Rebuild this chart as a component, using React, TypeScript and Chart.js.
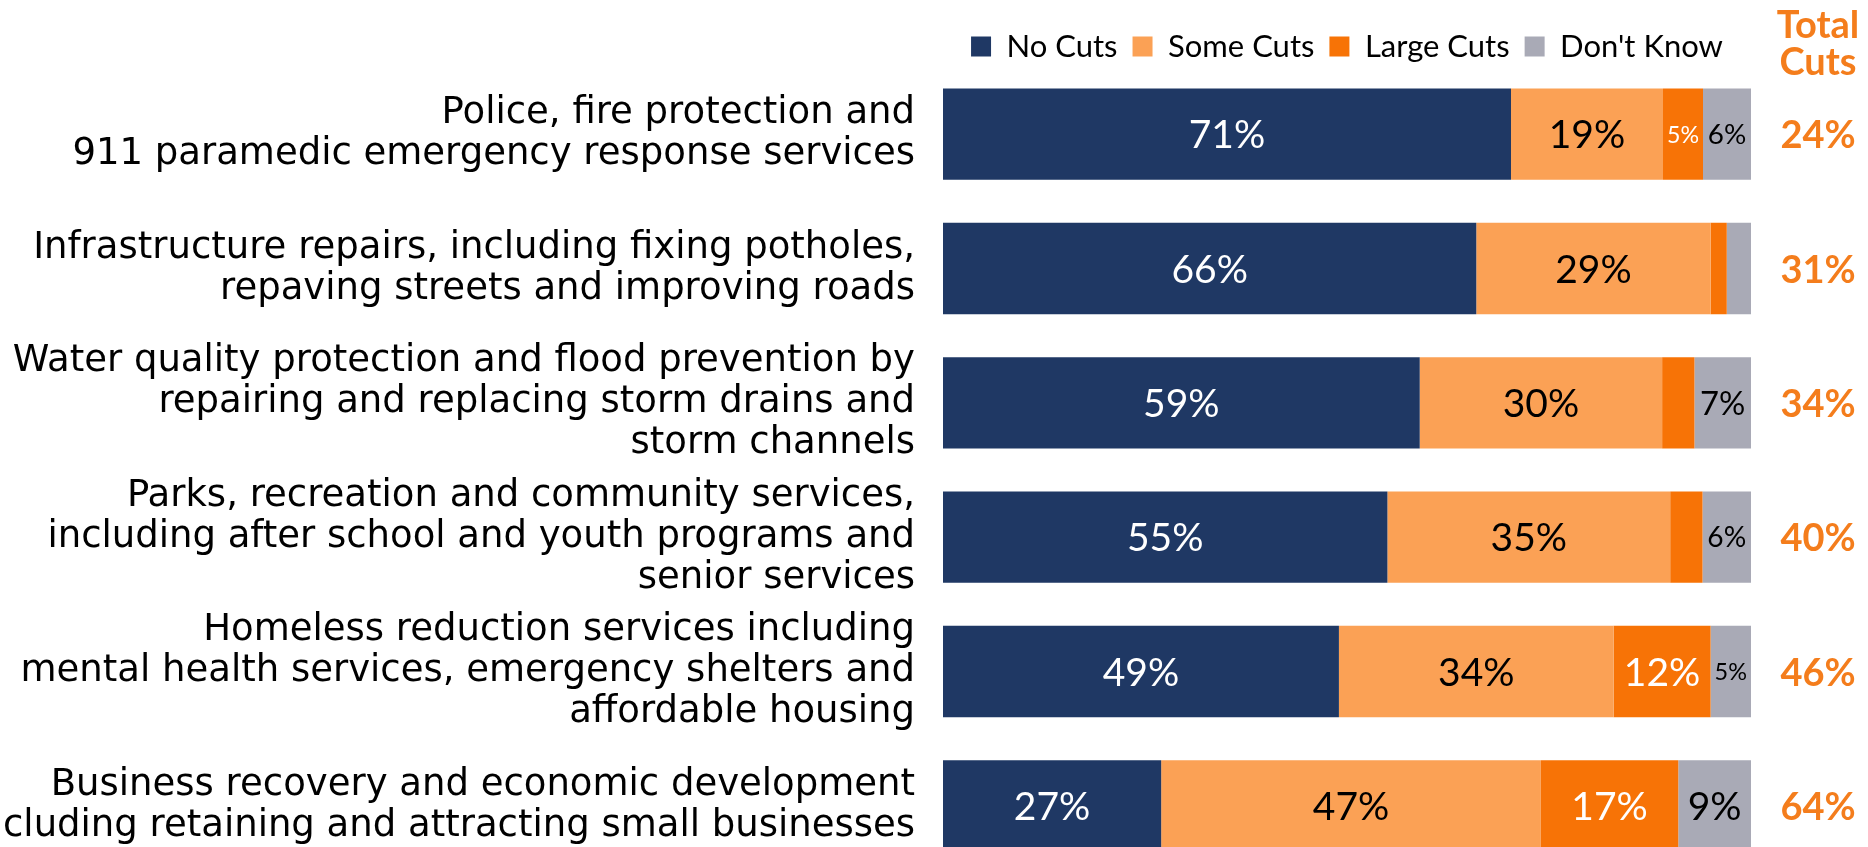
import React, { useEffect, useRef } from 'react';
import { Chart, registerables } from 'chart.js';

Chart.register(...registerables);

// ---------- data ----------
const categories: string[][] = [
  ['Police, fire protection and', '911 paramedic emergency response services'],
  ['Infrastructure repairs, including fixing potholes,', 'repaving streets and improving roads'],
  ['Water quality protection and flood prevention by', 'repairing and replacing storm drains and', 'storm channels'],
  ['Parks, recreation and community services,', 'including after school and youth programs and', 'senior services'],
  ['Homeless reduction services including', 'mental health services, emergency shelters and', 'affordable housing'],
  ['Business recovery and economic development', 'including retaining and attracting small businesses'],
];
const seriesNames = ['No Cuts', 'Some Cuts', 'Large Cuts', "Don't Know"];
const noCuts = [71, 66, 59, 55, 49, 27];
const someCuts = [19, 29, 30, 35, 34, 47];
const largeCuts = [5, 2, 4, 4, 12, 17];
const dontKnow = [6, 3, 7, 6, 5, 9];
const totalCuts = [24, 31, 34, 40, 46, 64];
const totalHeader = ['Total', 'Cuts'];
const minLabelValue = 5;

// ---------- styles ----------
const seriesColors = ['#1F3864', '#FBA155', '#F77306', '#A9AAB6'];
const labelColors = ['#FFFFFF', '#000000', '#FFFFFF', '#000000'];
const totalColor = '#F47D1C';
const W = 1868;
const H = 880;
const CHART_LEFT = 943;
const RIGHT_PAD = 117;
const TOP_PAD = 16;
const LEGEND_HEIGHT = 51;
const TOTAL_X = 1818;
const CAT_FONT = 'DejaVu Sans';
const MAIN_FONT = 'Lato';

const seriesValues = [noCuts, someCuts, largeCuts, dontKnow];
const rowSums = categories.map((_, i) => seriesValues.reduce((s, arr) => s + arr[i], 0));

const legendHeightFix = {
  id: 'legendHeightFix',
  beforeLayout(chart: any) {
    const lg = chart.legend;
    if (lg && !lg.__fixed) {
      const orig = lg.fit;
      lg.fit = function () {
        orig.call(this);
        this.height = LEGEND_HEIGHT;
      };
      lg.__fixed = true;
    }
  },
};

const valueLabels = {
  id: 'valueLabels',
  afterDatasetsDraw(chart: any) {
    const ctx = chart.ctx;
    chart.data.datasets.forEach((ds: any, di: number) => {
      const meta = chart.getDatasetMeta(di);
      meta.data.forEach((el: any, i: number) => {
        const v = ds.rawValues[i];
        if (v < minLabelValue) return;
        const { x, y, base } = el.getProps(['x', 'y', 'base'], true);
        const w = Math.abs(x - base);
        const size = Math.min(39, w * 0.58);
        ctx.save();
        ctx.font = `${size}px ${MAIN_FONT}`;
        ctx.fillStyle = labelColors[di];
        ctx.textAlign = 'center';
        ctx.textBaseline = 'alphabetic';
        ctx.fillText(`${v}%`, (x + base) / 2, y + size * 0.36);
        ctx.restore();
      });
    });
  },
};

const totalsColumn = {
  id: 'totalsColumn',
  afterDraw(chart: any) {
    const ctx = chart.ctx;
    const yScale = chart.scales.y;
    ctx.save();
    ctx.fillStyle = totalColor;
    ctx.textAlign = 'center';
    ctx.textBaseline = 'alphabetic';
    ctx.font = `bold 38px ${MAIN_FONT}`;
    ctx.fillText(totalHeader[0], TOTAL_X, 38);
    ctx.fillText(totalHeader[1], TOTAL_X, 75);
    totalCuts.forEach((v, i) => {
      const y = yScale.getPixelForValue(i);
      ctx.fillText(`${v}%`, TOTAL_X, y + 14);
    });
    ctx.restore();
  },
};

export default function App() {
  const ref = useRef<HTMLCanvasElement>(null);
  useEffect(() => {
    const datasets = seriesValues.map((vals, si) => ({
      label: seriesNames[si],
      data: vals.map((v, i) => (v / rowSums[i]) * 100),
      rawValues: vals,
      backgroundColor: seriesColors[si],
      borderWidth: 0,
      barPercentage: 0.68,
      categoryPercentage: 1,
    }));
    const chart = new Chart(ref.current as HTMLCanvasElement, {
      type: 'bar',
      data: { labels: categories, datasets } as any,
      options: {
        indexAxis: 'y',
        responsive: false,
        devicePixelRatio: 1,
        animation: false,
        layout: { padding: { top: TOP_PAD, right: RIGHT_PAD, bottom: 7, left: 0 } },
        scales: {
          x: { display: false, stacked: true, min: 0, max: 100 },
          y: {
            stacked: true,
            grid: { display: false, drawTicks: false },
            border: { display: false },
            ticks: {
              color: '#000000',
              padding: 28,
              autoSkip: false,
              font: { family: CAT_FONT, size: 37, lineHeight: '41px' },
            },
            afterFit(scale: any) {
              scale.width = CHART_LEFT;
              scale.paddingTop = 0;
              scale.paddingBottom = 0;
            },
          },
        },
        plugins: {
          tooltip: { enabled: false },
          legend: {
            position: 'top',
            fullSize: false,
            align: 'center',
            labels: {
              boxWidth: 20,
              boxHeight: 20,
              padding: 15,
              color: '#000000',
              font: { family: MAIN_FONT, size: 31 },
            },
          },
        },
      } as any,
      plugins: [legendHeightFix, valueLabels, totalsColumn],
    });
    return () => chart.destroy();
  }, []);
  return (
    <div
      style={{
        position: 'fixed',
        left: 0,
        top: 0,
        width: W,
        height: 847,
        overflow: 'hidden',
        background: '#ffffff',
      }}
    >
      <canvas ref={ref} width={W} height={H} style={{ display: 'block', width: W, height: H }} />
    </div>
  );
}
